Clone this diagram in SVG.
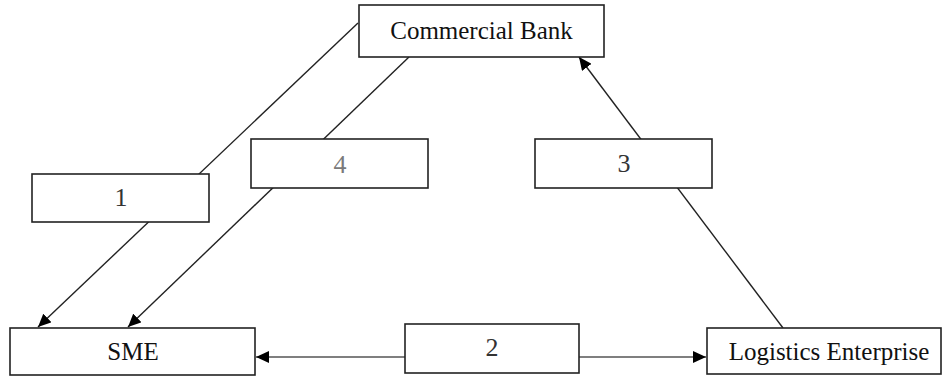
<svg xmlns="http://www.w3.org/2000/svg" width="943" height="377" viewBox="0 0 943 377">
<style>
.box{fill:#fff;stroke:#222;stroke-width:1.6}
.lbl{font-family:"Liberation Serif","Times New Roman",serif;font-size:25px;fill:#111;text-anchor:middle}
.num{font-family:"Liberation Serif","Times New Roman",serif;font-size:26px;text-anchor:middle}
.ln{stroke:#222;stroke-width:1.4;fill:none}
.ln2{stroke:#555;stroke-width:1.6;fill:none}
</style>
<defs>
<marker id="ah" markerUnits="userSpaceOnUse" markerWidth="14" markerHeight="12" refX="13" refY="6" orient="auto">
<path d="M0,0 L13,6 L0,12 z" fill="#000"/>
</marker>
</defs>
<rect width="943" height="377" fill="#fff"/>
<g id="connectors">
<line class="ln" x1="358" y1="23" x2="38" y2="327" marker-end="url(#ah)"/>
<line class="ln" x1="409" y1="57" x2="128" y2="327" marker-end="url(#ah)"/>
<line class="ln" x1="783" y1="328" x2="579" y2="57" marker-end="url(#ah)"/>
<line class="ln2" x1="405" y1="357" x2="256" y2="357" marker-end="url(#ah)"/>
<line class="ln2" x1="579" y1="357" x2="706" y2="357" marker-end="url(#ah)"/>
</g>
<g id="commercial-bank">
<rect class="box" x="359" y="5" width="245" height="52"/>
<text class="lbl" x="481.5" y="38.5">Commercial Bank</text>
</g>
<g id="sme">
<rect class="box" x="10" y="328" width="245" height="47"/>
<text class="lbl" x="133" y="360">SME</text>
</g>
<g id="logistics-enterprise">
<rect class="box" x="707" y="328" width="234" height="46"/>
<text class="lbl" x="829" y="360">Logistics Enterprise</text>
</g>
<g id="step-1">
<rect class="box" x="32" y="174" width="177" height="48"/>
<text class="num" x="121" y="206" fill="#333">1</text>
</g>
<g id="step-4">
<rect class="box" x="251" y="139" width="177" height="49"/>
<text class="num" x="340" y="173" fill="#7a7a7a">4</text>
</g>
<g id="step-3">
<rect class="box" x="535" y="139" width="177" height="49"/>
<text class="num" x="624" y="172" fill="#333">3</text>
</g>
<g id="step-2">
<rect class="box" x="405" y="324" width="174" height="49"/>
<text class="num" x="492" y="356" fill="#333">2</text>
</g>
</svg>
